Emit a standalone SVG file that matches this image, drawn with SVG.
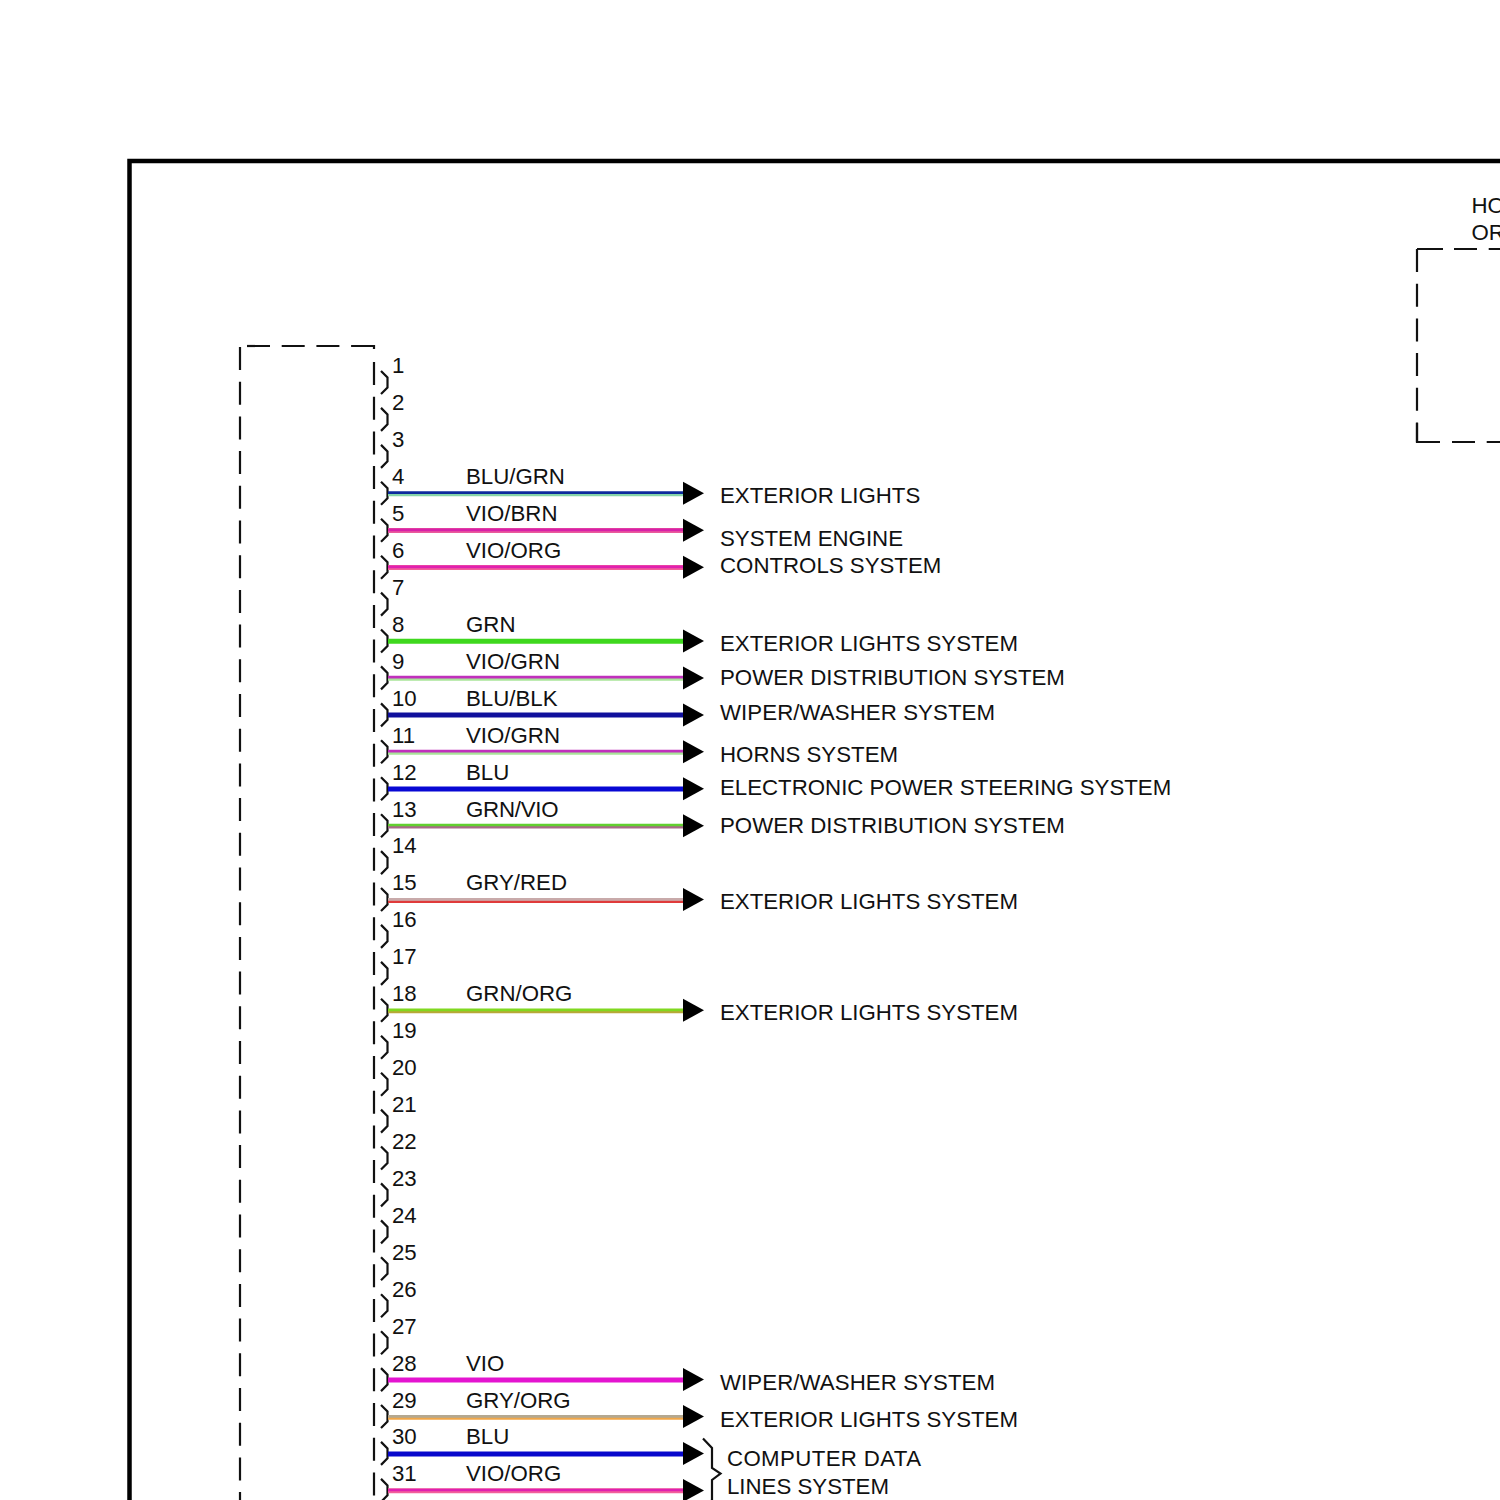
<svg xmlns="http://www.w3.org/2000/svg" xmlns:xlink="http://www.w3.org/1999/xlink" width="1500" height="1500" viewBox="0 0 1500 1500">
<style>
text{font-family:"Liberation Sans",Arial,sans-serif;font-size:22.25px;fill:#111}
.frame{fill:none;stroke:#000;stroke-width:4.5}
.dash{fill:none;stroke:#111;stroke-width:2.2;stroke-dasharray:23 11.7}
.solid{fill:none;stroke:#111;stroke-width:2.2}
.w{stroke-width:2.7;fill:none}
.f{stroke-width:5;fill:none}
</style>
<defs>
<path id="chev" class="solid" d="M381 -11.5L387.5 -5V5L381 11.5"/>
<polygon id="head" points="683,-11.5 704,0 683,11.5" fill="#000"/>
</defs>
<rect width="1500" height="1500" fill="#fff"/>
<path id="frame" class="frame" d="M1510 161H129.5V1510"/>
<g id="left-connector">
<path class="dash" d="M247 346H374"/>
<path class="solid" d="M352 346H374V349"/>
<path class="dash" d="M240 347V1510"/>
<path class="dash" d="M374 362V1510"/>
</g>
<g id="right-module">
<path class="dash" d="M1417 249V442"/>
<path class="solid" d="M1417 249H1443M1417 423V442H1440"/>
<path class="dash" d="M1454 249H1510"/>
<path class="dash" d="M1452 442H1510"/>
<text x="1471.5" y="213">HO</text>
<text x="1471.5" y="240">OR</text>
</g>
<g id="pins">
<g id="pin1"><use href="#chev" y="382.5"/><text x="392" y="373">1</text></g>
<g id="pin2"><use href="#chev" y="419.4"/><text x="392" y="410">2</text></g>
<g id="pin3"><use href="#chev" y="456.4"/><text x="392" y="447">3</text></g>
<g id="pin4"><use href="#chev" y="493.3"/><text x="392" y="484">4</text></g>
<g id="pin5"><use href="#chev" y="530.2"/><text x="392" y="521">5</text></g>
<g id="pin6"><use href="#chev" y="567.2"/><text x="392" y="558">6</text></g>
<g id="pin7"><use href="#chev" y="604.1"/><text x="392" y="595">7</text></g>
<g id="pin8"><use href="#chev" y="641"/><text x="392" y="632">8</text></g>
<g id="pin9"><use href="#chev" y="677.9"/><text x="392" y="668.5">9</text></g>
<g id="pin10"><use href="#chev" y="714.9"/><text x="392" y="705.5">10</text></g>
<g id="pin11"><use href="#chev" y="751.8"/><text x="392" y="742.5">11</text></g>
<g id="pin12"><use href="#chev" y="788.7"/><text x="392" y="779.5">12</text></g>
<g id="pin13"><use href="#chev" y="825.7"/><text x="392" y="816.5">13</text></g>
<g id="pin14"><use href="#chev" y="862.6"/><text x="392" y="853">14</text></g>
<g id="pin15"><use href="#chev" y="899.5"/><text x="392" y="890">15</text></g>
<g id="pin16"><use href="#chev" y="936.4"/><text x="392" y="927">16</text></g>
<g id="pin17"><use href="#chev" y="973.4"/><text x="392" y="964">17</text></g>
<g id="pin18"><use href="#chev" y="1010.3"/><text x="392" y="1001">18</text></g>
<g id="pin19"><use href="#chev" y="1047.2"/><text x="392" y="1038">19</text></g>
<g id="pin20"><use href="#chev" y="1084.2"/><text x="392" y="1075">20</text></g>
<g id="pin21"><use href="#chev" y="1121.1"/><text x="392" y="1112">21</text></g>
<g id="pin22"><use href="#chev" y="1158"/><text x="392" y="1149">22</text></g>
<g id="pin23"><use href="#chev" y="1194.9"/><text x="392" y="1185.5">23</text></g>
<g id="pin24"><use href="#chev" y="1231.9"/><text x="392" y="1222.5">24</text></g>
<g id="pin25"><use href="#chev" y="1268.8"/><text x="392" y="1259.5">25</text></g>
<g id="pin26"><use href="#chev" y="1305.7"/><text x="392" y="1296.5">26</text></g>
<g id="pin27"><use href="#chev" y="1342.7"/><text x="392" y="1333.5">27</text></g>
<g id="pin28"><use href="#chev" y="1379.6"/><text x="392" y="1370.5">28</text></g>
<g id="pin29"><use href="#chev" y="1416.5"/><text x="392" y="1407.5">29</text></g>
<g id="pin30"><use href="#chev" y="1453.4"/><text x="392" y="1444">30</text></g>
<g id="pin31"><use href="#chev" y="1490.4"/><text x="392" y="1481">31</text></g>
</g>
<g id="connectors">
<g id="wire4"><path class="w" stroke="#86d4a8" d="M388 494.8H684"/><path class="w" stroke="#0c2a9c" d="M388 492.6H684"/><use href="#head" y="493.3"/></g>
<g id="wire5"><path class="f" stroke="#ea5a9c" d="M388 530.6H684"/><path class="w" stroke="#d820a8" d="M388 529.8H684"/><use href="#head" y="530.2"/></g>
<g id="wire6"><path class="f" stroke="#f2609a" d="M388 567.6H684"/><path class="w" stroke="#e020b0" d="M388 566.8H684"/><use href="#head" y="567.2"/></g>
<g id="wire8"><path class="f" stroke="#3fd81e" d="M388 641.2H684"/><use href="#head" y="641"/></g>
<g id="wire9"><path class="w" stroke="#a8e498" d="M388 679.3H684"/><path class="w" stroke="#c030bc" d="M388 677.2H684"/><use href="#head" y="677.9"/></g>
<g id="wire10"><path class="f" stroke="#10109c" d="M388 715H684"/><use href="#head" y="714.9"/></g>
<g id="wire11"><path class="w" stroke="#a8e498" d="M388 753.3H684"/><path class="w" stroke="#c030bc" d="M388 751.2H684"/><use href="#head" y="751.8"/></g>
<g id="wire12"><path class="f" stroke="#0808d4" d="M388 789H684"/><use href="#head" y="788.7"/></g>
<g id="wire13"><path class="w" stroke="#a86a88" d="M388 827.2H684"/><path class="w" stroke="#62d030" d="M388 825H684"/><use href="#head" y="825.7"/></g>
<g id="wire15"><path class="w" stroke="#e03a3a" d="M388 901.6H684"/><path class="w" stroke="#c8aaaa" d="M388 899.4H684"/><use href="#head" y="899.5"/></g>
<g id="wire18"><path class="w" stroke="#b8a838" d="M388 1012H684"/><path class="w" stroke="#80d820" d="M388 1009.9H684"/><use href="#head" y="1010.3"/></g>
<g id="wire28"><path class="f" stroke="#e414d0" d="M388 1380H684"/><use href="#head" y="1379.6"/></g>
<g id="wire29"><path class="w" stroke="#f0a648" d="M388 1418.4H684"/><path class="w" stroke="#b4a890" d="M388 1416.3H684"/><use href="#head" y="1416.5"/></g>
<g id="wire30"><path class="f" stroke="#0808cc" d="M388 1454H684"/><use href="#head" y="1453.4"/></g>
<g id="wire31"><path class="f" stroke="#f2609a" d="M388 1490.8H684"/><path class="w" stroke="#e020b0" d="M388 1490H684"/><use href="#head" y="1490.4"/></g>
</g>
<g id="wire-labels">
<text x="466" y="484">BLU/GRN</text>
<text x="466" y="521">VIO/BRN</text>
<text x="466" y="558">VIO/ORG</text>
<text x="466" y="632">GRN</text>
<text x="466" y="668.5">VIO/GRN</text>
<text x="466" y="705.5">BLU/BLK</text>
<text x="466" y="742.5">VIO/GRN</text>
<text x="466" y="779.5">BLU</text>
<text x="466" y="816.5" textLength="92.5" lengthAdjust="spacing">GRN/VIO</text>
<text x="466" y="890">GRY/RED</text>
<text x="466" y="1001">GRN/ORG</text>
<text x="466" y="1370.5">VIO</text>
<text x="466" y="1407.5">GRY/ORG</text>
<text x="466" y="1444">BLU</text>
<text x="466" y="1481">VIO/ORG</text>
</g>
<g id="destinations">
<text x="720" y="503">EXTERIOR LIGHTS</text>
<text x="720" y="546">SYSTEM ENGINE</text>
<text x="720" y="573">CONTROLS SYSTEM</text>
<text x="720" y="651">EXTERIOR LIGHTS SYSTEM</text>
<text x="720" y="685">POWER DISTRIBUTION SYSTEM</text>
<text x="720" y="720" textLength="275">WIPER/WASHER SYSTEM</text>
<text x="720" y="762">HORNS SYSTEM</text>
<text x="720" y="795">ELECTRONIC POWER STEERING SYSTEM</text>
<text x="720" y="833">POWER DISTRIBUTION SYSTEM</text>
<text x="720" y="909">EXTERIOR LIGHTS SYSTEM</text>
<text x="720" y="1020">EXTERIOR LIGHTS SYSTEM</text>
<text x="720" y="1390" textLength="275">WIPER/WASHER SYSTEM</text>
<text x="720" y="1427">EXTERIOR LIGHTS SYSTEM</text>
<text x="727" y="1466" textLength="194">COMPUTER DATA</text>
<text x="727" y="1494">LINES SYSTEM</text>
<path class="solid" d="M703 1438.5L712 1448V1468L720.5 1473.5L712 1480V1500L703 1510"/>
</g>
</svg>
